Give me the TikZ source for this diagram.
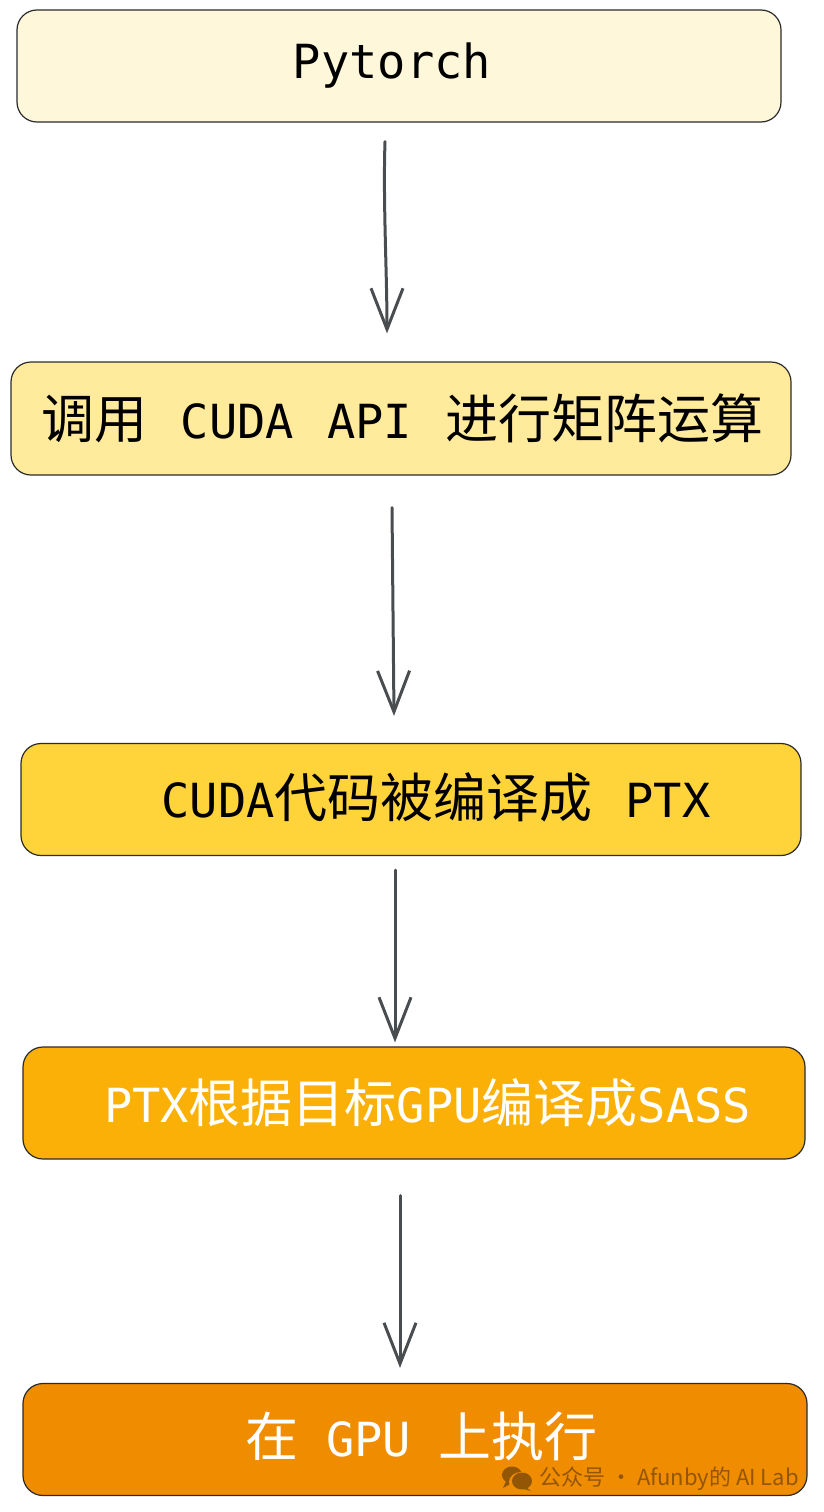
\documentclass[tikz,border=0pt]{standalone}
\usepackage{fontspec}
\setmainfont{Noto Sans CJK SC}
\newfontfamily\latinface{DejaVu Sans Mono}
\usepackage{tikz}
\usetikzlibrary{arrows.meta,positioning,calc}
\definecolor{boxline}{HTML}{2B2B2B}
\definecolor{arrowgray}{HTML}{4A4D50}
\definecolor{creamfill}{HTML}{FEF7DA}
\definecolor{palefill}{HTML}{FFEB9B}
\definecolor{yellowfill}{HTML}{FFD43B}
\definecolor{amberfill}{HTML}{FBB008}
\definecolor{orangefill}{HTML}{F08C00}
\definecolor{markbrown}{HTML}{935605}
\newcommand{\lat}[1]{{\latinface\fontsize{47pt}{56pt}\selectfont #1}}
\newcommand{\wordgap}{\hspace{33pt}}

\begin{document}
\begin{tikzpicture}[
    x=1pt, y=-1pt,
    stage/.style={
        rectangle,
        rounded corners=20pt,
        draw=boxline,
        line width=1.2pt,
        minimum height=112pt,
        inner sep=0pt,
        font=\fontsize{53pt}{56pt}\selectfont
    },
    arrow/.style={
        -{Straight Barb[length=41pt, width=32pt, line width=3pt]},
        line width=3pt,
        line cap=round,
        color=arrowgray
    }
]
    \useasboundingbox (0,0) rectangle (824,1512);

    % Stage 1: framework
    \node[stage, fill=creamfill, minimum width=764pt] (pytorch) at (399,66) {
        \raisebox{4pt}{\hspace*{-14pt}\lat{Pytorch}}
    };

    % Stage 2: API call
    \node[stage, fill=palefill, minimum width=780pt, minimum height=113pt] (apicall) at (401,418.5) {
        \raisebox{5pt}{\hspace*{3pt}调用\wordgap\lat{CUDA}\wordgap\lat{API}\wordgap 进行矩阵运算}
    };

    % Stage 3: compile to PTX
    \node[stage, fill=yellowfill, minimum width=780pt] (toptx) at (411,799.5) {
        \raisebox{9pt}{\hspace*{50pt}\lat{CUDA}代码被编译成\wordgap\lat{PTX}}
    };

    % Stage 4: compile to SASS
    \node[stage, fill=amberfill, text=white, minimum width=782pt, font=\fontsize{52pt}{56pt}\selectfont] (tosass) at (414,1103) {
        \raisebox{2pt}{\hspace*{27pt}\lat{PTX}根据目标\lat{GPU}编译成\lat{SASS}}
    };

    % Stage 5: run on GPU
    \node[stage, fill=orangefill, text=white, minimum width=784pt] (rungpu) at (415,1439.5) {
        \raisebox{10pt}{\hspace*{13pt}在\hspace{28pt}\lat{GPU}\hspace{28pt}上执行}
    };

    % Arrows
    \draw[arrow] ([xshift=-14pt, yshift=-19pt]pytorch.south) .. controls +(-2,60) and +(0,-60) .. ([xshift=-14pt, yshift=28pt]apicall.north);
    \draw[arrow] ([xshift=-9pt, yshift=-32pt]apicall.south) -- ([xshift=-17pt, yshift=27pt]toptx.north);
    \draw[arrow] ([xshift=-16pt, yshift=-14pt]toptx.south) -- ([xshift=-19pt, yshift=4pt]tosass.north);
    \draw[arrow] ([xshift=-14pt, yshift=-36pt]tosass.south) -- ([xshift=-15pt, yshift=15pt]rungpu.north);

    % Watermark
    \node[anchor=west, inner sep=0pt, text=markbrown, font=\fontsize{22pt}{24pt}\selectfont] (mark) at (539,1479) {公众号 · Afunby的 AI Lab};
    \fill[markbrown] (512,1475) ellipse (10pt and 8.5pt);
    \fill[markbrown] (506,1481) -- (503,1488) -- (512,1483) -- cycle;
    \fill[orangefill] (521,1482) ellipse (12pt and 10pt);
    \fill[markbrown] (522,1481) ellipse (10pt and 8.5pt);
    \fill[markbrown] (526,1487) -- (531,1491) -- (520,1488) -- cycle;
\end{tikzpicture}
\end{document}
